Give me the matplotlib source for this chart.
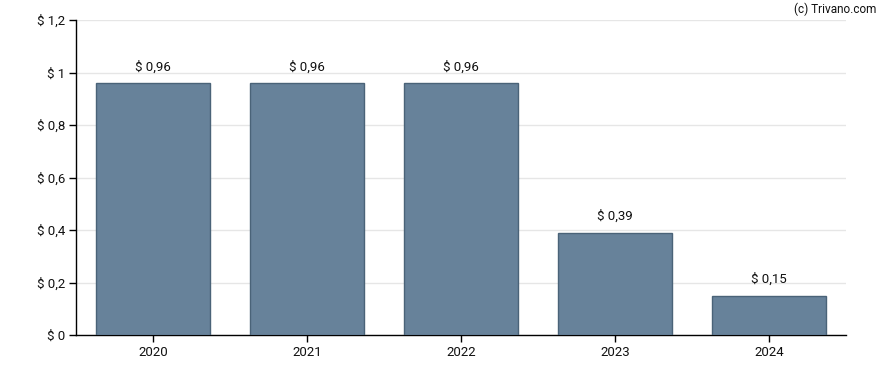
import matplotlib
matplotlib.use("Agg")
import matplotlib.pyplot as plt

years = ["2020", "2021", "2022", "2023", "2024"]
values = [0.96, 0.96, 0.96, 0.39, 0.15]
labels = ["$ 0,96", "$ 0,96", "$ 0,96", "$ 0,39", "$ 0,15"]
yticks = [0, 0.2, 0.4, 0.6, 0.8, 1.0, 1.2]
ytick_labels = ["$ 0", "$ 0,2", "$ 0,4", "$ 0,6", "$ 0,8", "$ 1", "$ 1,2"]

plt.rcParams['font.family'] = ['Roboto', 'DejaVu Sans']
fig = plt.figure(figsize=(8.88, 3.70), dpi=100)
ax = fig.add_axes([76/888, 35/370, (846-76)/888, (335-20)/370])

x = list(range(len(years)))
ax.bar(x, values, width=0.745, color="#67829a", edgecolor="#4a6378", linewidth=1, zorder=3)
for xi, v, lab in zip(x, values, labels):
    ax.annotate(lab, (xi, v), xytext=(0, 7), textcoords="offset points",
                ha="center", va="bottom", fontsize=9.5, color="#111111")

ax.set_xlim(-0.5, 4.5)
ax.set_ylim(0, 1.2)
ax.set_xticks(x)
ax.set_xticklabels(years)
ax.set_yticks(yticks)
ax.set_yticklabels(ytick_labels)
ax.tick_params(axis="both", labelsize=9.5, labelcolor="#111111", length=5, width=1,
               direction="out", color="black", pad=3)
ax.grid(axis="y", color="#e6e6e6", linewidth=1, zorder=0)
for s in ["top", "right"]:
    ax.spines[s].set_visible(False)
for s in ["left", "bottom"]:
    ax.spines[s].set_color("black")
    ax.spines[s].set_linewidth(1)

fig.text(876/888, 1 - 9/370, "(c) Trivano.com", ha="right", va="center", fontsize=8.5, color="#111111")

fig.savefig("out.png", dpi=100)
